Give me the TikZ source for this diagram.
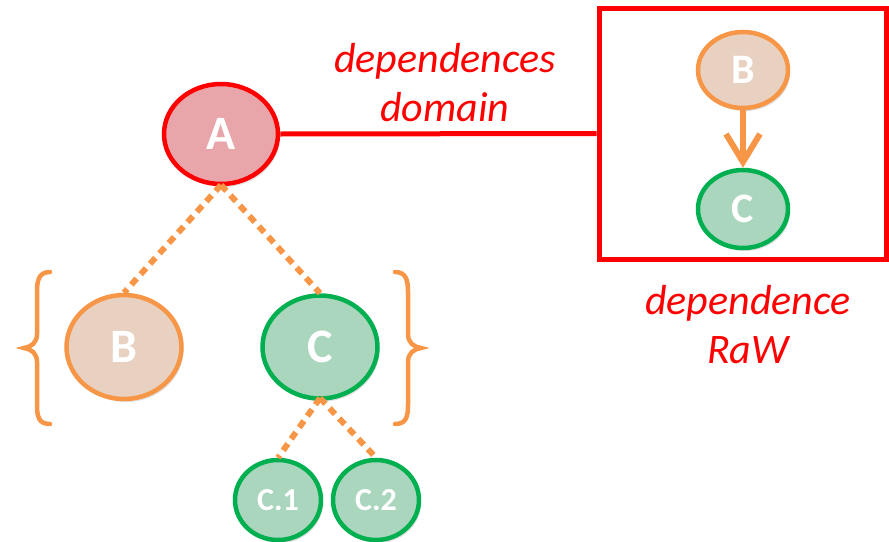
\documentclass[tikz,border=0pt]{standalone}
\usepackage{fontspec}
\setmainfont{Carlito}
\usetikzlibrary{arrows.meta,shadows,shapes.geometric}
\definecolor{redc}{RGB}{255,0,0}
\definecolor{afill}{RGB}{233,166,170}
\definecolor{orc}{RGB}{247,150,70}
\definecolor{bfill}{RGB}{232,209,192}
\definecolor{grc}{RGB}{0,176,80}
\definecolor{cfill}{RGB}{170,214,190}
\tikzset{
  x=1pt,y=-1pt,
  nd/.style={ellipse,inner sep=0pt,line width=4.5pt,
     font=\bfseries\fontsize{48}{48}\selectfont,text=white,
     drop shadow={shadow xshift=2pt,shadow yshift=-3pt,opacity=0.25}},
  anode/.style={nd,draw=redc,fill=afill},
  bnode/.style={nd,draw=orc,fill=bfill},
  cnode/.style={nd,draw=grc,fill=cfill},
  dots/.style={draw=orc,line width=6pt,dash pattern=on 8pt off 6pt},
  lbl/.style={text=redc,font=\itshape\fontsize{42}{49}\selectfont,align=center},
  brc/.style={draw=orc,line width=4.5pt,line cap=round}
}
\begin{document}
\begin{tikzpicture}
\useasboundingbox (0,0) rectangle (889,541);
\node[anode,minimum width=114pt,minimum height=100pt] (A) at (221,134) {A};
\node[bnode,minimum width=115pt,minimum height=104pt] (B) at (124,347) {B};
\node[cnode,minimum width=115pt,minimum height=103pt] (C) at (320,347) {C};
\node[cnode,minimum width=86pt,minimum height=80pt,font=\bfseries\fontsize{32}{32}\selectfont] (C1) at (278,500) {C.1};
\node[cnode,minimum width=86pt,minimum height=80pt,font=\bfseries\fontsize{32}{32}\selectfont] (C2) at (376,500) {C.2};
\node[draw=redc,line width=5pt,minimum width=287pt,minimum height=251pt,inner sep=0pt] (box) at (742.5,133.5) {};
\node[bnode,minimum width=90pt,minimum height=76pt,font=\bfseries\fontsize{42}{42}\selectfont] (B2) at (743,70) {B};
\node[cnode,minimum width=90pt,minimum height=78pt,font=\bfseries\fontsize{42}{42}\selectfont] (C3) at (743,209) {C};
\draw[draw=redc,line width=5pt] (A.east) -- (box.west);
\draw[draw=orc,line width=6pt,-{Straight Barb[length=28pt,width=34pt,line width=6pt]}] (B2.south) -- (C3.north);
\coordinate (Ab) at (221,185);
\draw[dots] (Ab) -- (B.north);
\draw[dots] (Ab) -- (C.north);
\coordinate (Cb) at (320,398);
\draw[dots] (Cb) -- (C1.north);
\draw[dots] (Cb) -- (C2.north);
\node[lbl] (L1) at (445,83) {dependences\\domain};
\node[lbl] (L2) at (748,325) {dependence\\RaW};
\draw[brc] (50,272) .. controls (39,272) and (37,280) .. (37,292) -- (37,334) .. controls (37,343) and (31,347) .. (24,348) .. controls (31,349) and (37,353) .. (37,362) -- (37,405) .. controls (37,417) and (39,424) .. (50,424);
\draw[brc] (395,272) .. controls (406,272) and (408,280) .. (408,292) -- (408,334) .. controls (408,343) and (414,347) .. (421,348) .. controls (414,349) and (408,353) .. (408,362) -- (408,405) .. controls (408,417) and (406,424) .. (395,424);
\end{tikzpicture}
\end{document}
